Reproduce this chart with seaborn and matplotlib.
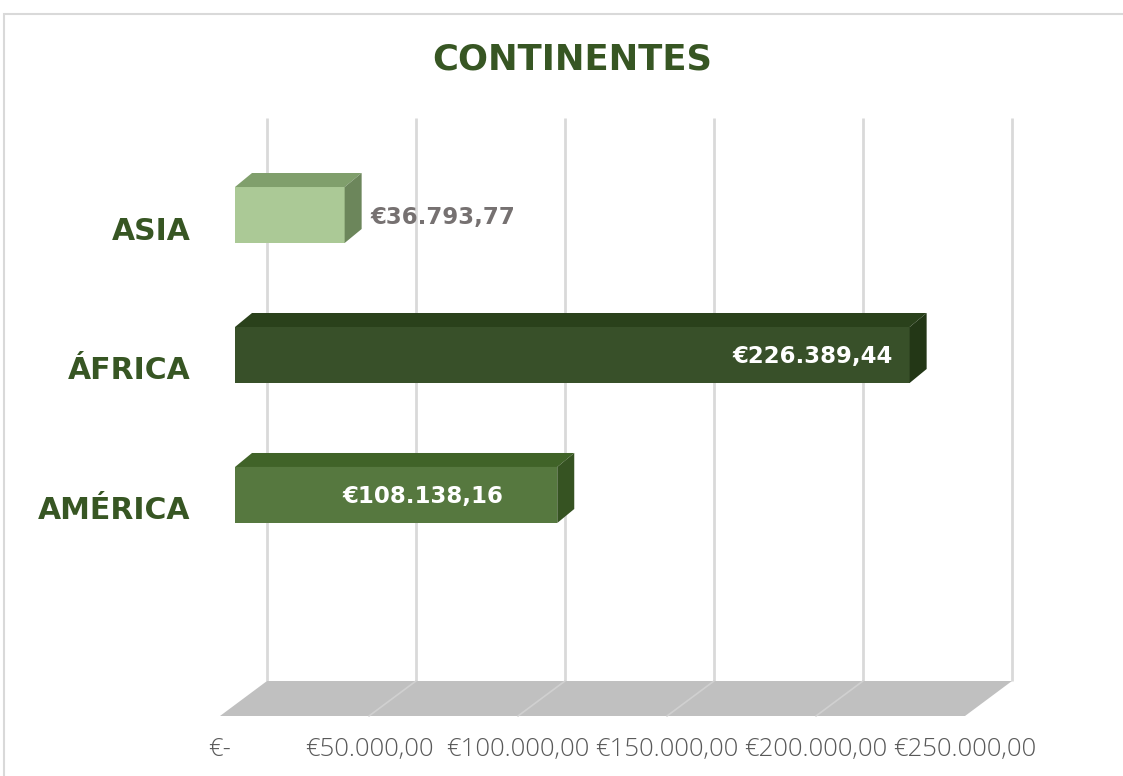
import numpy as np
import matplotlib
matplotlib.use("Agg")
import matplotlib.pyplot as plt
from matplotlib.patches import Polygon, Rectangle
from matplotlib.transforms import ScaledTranslation
import seaborn as sns

# --- data ---------------------------------------------------------------
continents = ["ASIA", "ÁFRICA", "AMÉRICA"]
totals = [36793.77, 226389.44, 108138.16]
bar_colors = ["#A9D18E", "#375623", "#548235"]
label_colors = ["#767171", "#FFFFFF", "#FFFFFF"]
label_modes = ["outside", "inside_end", "center"]
x_ticks = [0, 50000, 100000, 150000, 200000, 250000]
title = "CONTINENTES"


def euro(v):
    if v == 0:
        return "€-"
    s = f"{v:,.2f}"
    return "€" + s.replace(",", "#").replace(".", ",").replace("#", ".")


# --- style ----------------------------------------------------------------
sns.set_theme(style="white")
plt.rcParams["font.family"] = ["Open Sans", "DejaVu Sans"]
BOLD_FONT = ["DejaVu Sans"]

W, H, DPI = 1123, 776, 100
fig = plt.figure(figsize=(W / DPI, H / DPI), dpi=DPI)
fig.patch.set_facecolor("white")

# plot plane of the bar fronts (pixel box)
left_px, right_px, top_px, bottom_px = 235, 980, 141, 704
ax = fig.add_axes([left_px / W, 1 - bottom_px / H,
                   (right_px - left_px) / W, (bottom_px - top_px) / H])

sns.barplot(x=totals, y=continents, hue=continents, palette=bar_colors,
            orient="h", width=0.4, linewidth=0, legend=False, ax=ax,
            zorder=3)
bars = list(ax.patches)

ax.set_xlim(0, 250000)
y_bottom, y_top = 3.493, -0.5286
ax.set_ylim(y_bottom, y_top)
for s in ax.spines.values():
    s.set_visible(False)
ax.grid(False)

# oblique depth offsets, in pixels (x right, y up)
BAR_DEPTH = (17, 14)
WALL = (32, 23)
FRONT = (-15, -12)

to_disp = ax.transData.transform
to_data = ax.transData.inverted().transform


def shift(x, y, d):
    px = to_disp((x, y))
    return to_data((px[0] + d[0], px[1] + d[1]))


def shade(c, f):
    r, g, b = matplotlib.colors.to_rgb(c)
    return (r * f, g * f, b * f)


# back wall gridlines and floor
for t in x_ticks:
    a = shift(t, y_bottom, WALL)
    b = shift(t, y_top, WALL)
    ax.plot([a[0], b[0]], [a[1], b[1]], color="#D9D9D9", lw=2,
            zorder=0.5, clip_on=False, solid_capstyle="butt")

floor = [shift(0, y_bottom, WALL), shift(250000, y_bottom, WALL),
         shift(250000, y_bottom, FRONT), shift(0, y_bottom, FRONT)]
ax.add_patch(Polygon(floor, closed=True, facecolor="#C0C0C0",
                     edgecolor="none", zorder=1, clip_on=False))
for t in x_ticks[1:-1]:
    a = shift(t, y_bottom, WALL)
    b = shift(t, y_bottom, FRONT)
    ax.plot([a[0], b[0]], [a[1], b[1]], color="#D0D0D0", lw=1.2,
            zorder=1.1, clip_on=False)

# 3D faces of each bar
for bar, col in zip(bars, bar_colors):
    x0, y0 = bar.get_x(), bar.get_y()
    x1, y1 = x0 + bar.get_width(), y0 + bar.get_height()
    (pa, pb) = to_disp([(x0, y0), (x1, y1)])
    L, R = min(pa[0], pb[0]), max(pa[0], pb[0])
    B, T = min(pa[1], pb[1]), max(pa[1], pb[1])
    dx, dy = BAR_DEPTH
    top = to_data([(L, T), (R, T), (R + dx, T + dy), (L + dx, T + dy)])
    side = to_data([(R, B), (R, T), (R + dx, T + dy), (R + dx, B + dy)])
    ax.add_patch(Polygon(top, closed=True, facecolor=shade(col, 0.76),
                         edgecolor="none", zorder=3, clip_on=False))
    ax.add_patch(Polygon(side, closed=True, facecolor=shade(col, 0.64),
                         edgecolor="none", zorder=3, clip_on=False))

# value labels
VAL_SIZE = 16.5
for bar, v, c, mode in zip(bars, totals, label_colors, label_modes):
    yc = bar.get_y() + bar.get_height() / 2
    end = bar.get_x() + bar.get_width()
    kw = dict(va="center", color=c, fontsize=VAL_SIZE, fontweight="bold",
              family=BOLD_FONT, zorder=5)
    if mode == "outside":
        tr = ax.transData + ScaledTranslation(0.26, -0.02, fig.dpi_scale_trans)
        ax.text(end, yc, euro(v), ha="left", transform=tr, **kw)
    elif mode == "inside_end":
        tr = ax.transData + ScaledTranslation(-0.17, -0.02, fig.dpi_scale_trans)
        ax.text(end, yc, euro(v), ha="right", transform=tr, **kw)
    else:
        tr = ax.transData + ScaledTranslation(0.27, -0.02, fig.dpi_scale_trans)
        ax.text(end / 2, yc, euro(v), ha="center", transform=tr, **kw)

# category axis
ax.set_yticks(range(len(continents)), continents)
ax.set_ylabel("")
ax.tick_params(axis="y", length=0, pad=32)
for lab in ax.get_yticklabels():
    lab.set_fontsize(21.5)
    lab.set_fontweight("bold")
    lab.set_family(BOLD_FONT)
    lab.set_color("#375623")
    lab.set_transform(lab.get_transform() +
                      ScaledTranslation(0, -0.13, fig.dpi_scale_trans))

# value axis, labelled along the floor's front edge
ax.set_xticks(x_ticks, [euro(t) for t in x_ticks])
ax.tick_params(axis="x", length=0, pad=24)
for lab in ax.get_xticklabels():
    lab.set_fontsize(18.5)
    lab.set_fontweight("light")
    lab.set_color("#595959")
    lab.set_transform(lab.get_transform() +
                      ScaledTranslation(-0.15, 0, fig.dpi_scale_trans))

fig.text(572 / W, 1 - 70 / H, title, ha="center", va="baseline",
         fontsize=25.5, fontweight="bold", color="#375623", family=BOLD_FONT)

# chart frame
fig.patches.append(Rectangle((4 / W, -0.05), 1.05, 1 - 14 / H + 0.05,
                             transform=fig.transFigure, fill=False,
                             edgecolor="#D9D9D9", lw=1.5))

fig.savefig("out.png", dpi=DPI, facecolor="white")
